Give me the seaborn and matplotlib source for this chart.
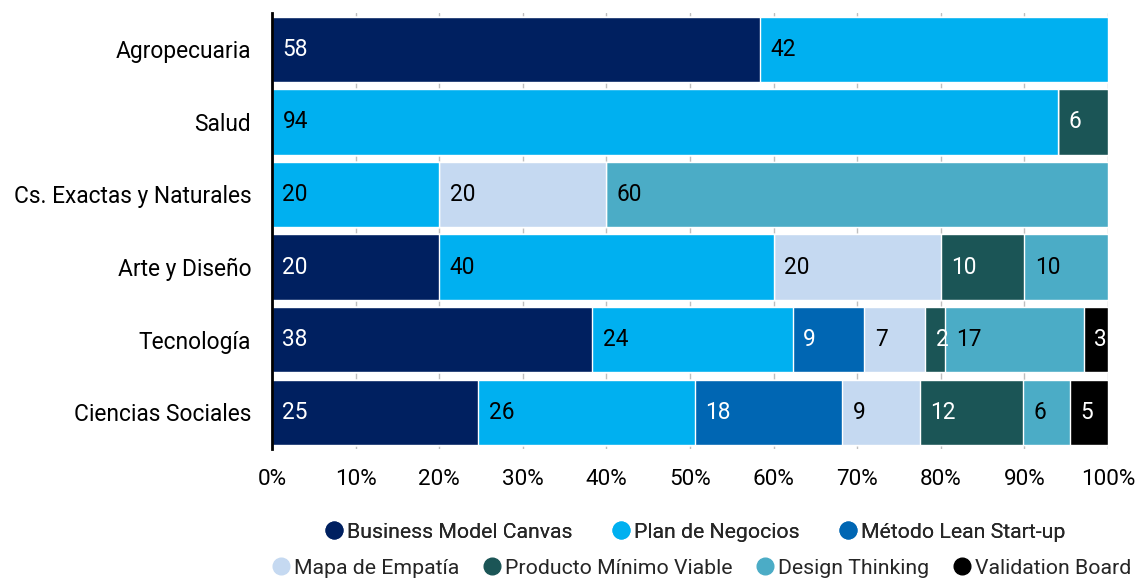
import numpy as np
import pandas as pd
import matplotlib
matplotlib.use("Agg")
import matplotlib.pyplot as plt
from matplotlib.lines import Line2D
import seaborn as sns

categories = ["Agropecuaria", "Salud", "Cs. Exactas y Naturales", "Arte y Diseño",
              "Tecnología", "Ciencias Sociales"]
series_names = ["Business Model Canvas", "Plan de Negocios", "Método Lean Start-up",
                "Mapa de Empatía", "Producto Mínimo Viable", "Design Thinking",
                "Validation Board"]
# percentage share of each method per area (bar labels show these rounded)
bmc        = [58.4, 0, 0, 20, 38.4, 24.7]
plan       = [41.6, 94, 20, 40, 24.0, 25.9]
lean       = [0, 0, 0, 0, 8.6, 17.6]
mapa       = [0, 0, 20, 20, 7.3, 9.3]
pmv        = [0, 6, 0, 10, 2.4, 12.3]
design     = [0, 0, 60, 10, 16.6, 5.6]
validation = [0, 0, 0, 0, 2.9, 4.6]
tick_labels = ["0%", "10%", "20%", "30%", "40%", "50%", "60%", "70%", "80%", "90%", "100%"]

colors = ["#002060", "#00B0F0", "#0066B3", "#C5D9F1", "#1B5556", "#4BACC6", "#000000"]
text_colors = ["white", "black", "white", "black", "white", "black", "white"]

sns.set_theme(style="white")
plt.rcParams["font.family"] = ["Roboto", "DejaVu Sans"]

vals = np.array([bmc, plan, lean, mapa, pmv, design, validation], dtype=float)
pct = vals / vals.sum(axis=0) * 100
cum = np.cumsum(pct, axis=0)
starts = cum - pct

fig = plt.figure(figsize=(11.38, 5.78), dpi=100)
ax = fig.add_axes([272/1138, 1 - 448.6/578, (1108-272)/1138, (448.6-13)/578])

# draw cumulative bars from the last series to the first so each overlays the next
for i in range(len(series_names) - 1, -1, -1):
    df = pd.DataFrame({"cat": categories, "val": cum[i]})
    sns.barplot(data=df, x="val", y="cat", orient="h", color=colors[i],
                saturation=1, width=0.9, ax=ax, order=categories, zorder=2)

for i in range(len(series_names)):
    for j, c in enumerate(categories):
        if vals[i, j] > 0:
            ax.annotate(f"{int(np.floor(vals[i, j] + 0.5))}", xy=(starts[i, j], j),
                        xytext=(7.5, 0), textcoords="offset points", ha="left",
                        va="center", fontsize=16.3, color=text_colors[i], zorder=5)

ax.set_xlim(0, 100)
ax.set_ylim(len(categories) - 0.5, -0.5)
ax.set_xticks(np.arange(0, 101, 10))
ax.set_xticklabels(tick_labels)
ax.set_xlabel("")
ax.set_ylabel("")
ax.grid(axis="x", color="#BFBFBF", linewidth=1, zorder=0)
ax.set_axisbelow(True)
for s in ["top", "right", "bottom"]:
    ax.spines[s].set_visible(False)
ax.spines["left"].set_color("black")
ax.spines["left"].set_linewidth(2)
ax.spines["left"].set_zorder(6)
ax.tick_params(axis="x", length=0, pad=15, labelsize=16.2, colors="black")
ax.tick_params(axis="y", length=0, pad=15, labelsize=16.4, colors="black")

def handle(col):
    return Line2D([], [], marker="o", linestyle="none", markersize=12,
                  markerfacecolor=col, markeredgecolor=col)

leg1 = fig.legend([handle(colors[k]) for k in range(3)], series_names[:3],
                  loc="center", bbox_to_anchor=(695.5/1138, 1 - 532/578), ncol=3,
                  frameon=False, fontsize=15.3, handletextpad=0.2, columnspacing=1.9,
                  handlelength=0.8, borderpad=0, borderaxespad=0)
leg2 = fig.legend([handle(colors[k]) for k in range(3, 7)], series_names[3:],
                  loc="center", bbox_to_anchor=(702/1138, 1 - 568/578), ncol=4,
                  frameon=False, fontsize=15.3, handletextpad=0.2, columnspacing=1.15,
                  handlelength=0.8, borderpad=0, borderaxespad=0)
fig.add_artist(leg1)

fig.savefig("out.png", dpi=100)
